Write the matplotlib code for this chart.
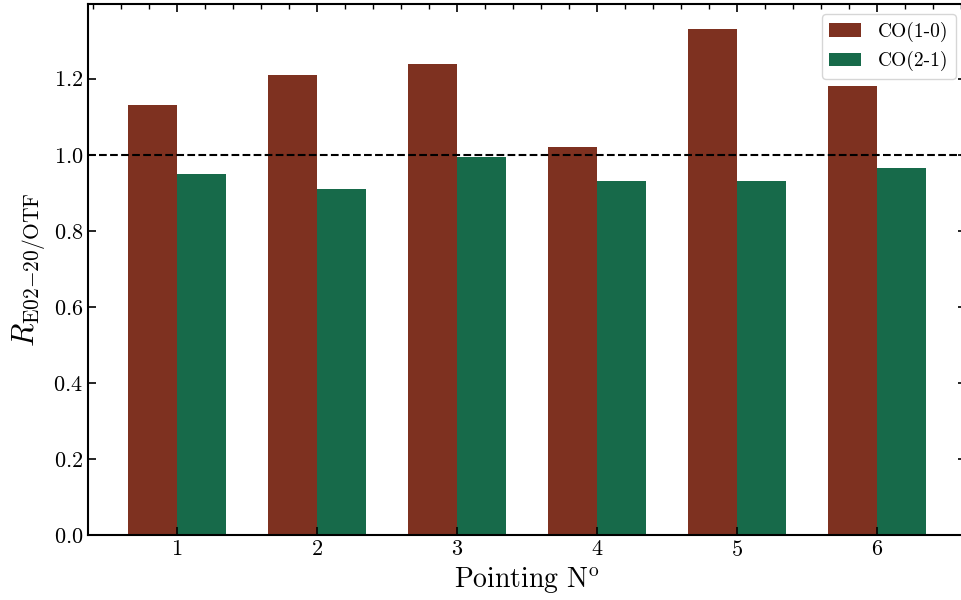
import matplotlib
matplotlib.use('Agg')
import matplotlib.pyplot as plt
import numpy as np
from matplotlib.ticker import MultipleLocator

# data
pointings = [1, 2, 3, 4, 5, 6]
co10 = [1.13, 1.21, 1.24, 1.02, 1.33, 1.18]
co21 = [0.95, 0.91, 0.995, 0.93, 0.93, 0.965]

plt.rcParams['font.family'] = 'serif'
plt.rcParams['font.serif'] = ['cmr10', 'DejaVu Serif']
plt.rcParams['mathtext.fontset'] = 'cm'
plt.rcParams['axes.formatter.use_mathtext'] = True

fig = plt.figure(figsize=(9.62, 6), dpi=100)
ax = fig.add_axes([88 / 962, 1 - 535 / 600, (966 - 88) / 962, (535 - 4) / 600])

x = np.array(pointings)
w = 0.35
ax.bar(x - w / 2, co10, w, color='#7e3120', label='CO(1-0)')
ax.bar(x + w / 2, co21, w, color='#176a4a', label='CO(2-1)')
ax.axhline(1.0, color='k', ls='--', lw=1.5)

ax.set_xticks(pointings)
ax.xaxis.set_minor_locator(MultipleLocator(0.2))
ax.yaxis.set_major_locator(MultipleLocator(0.2))
ax.tick_params(which='both', direction='in', top=True, right=True, labelsize=16)
ax.tick_params(which='major', length=6, width=1.2)
ax.tick_params(which='minor', length=3.5, width=1.0, bottom=False, top=True)
for s in ax.spines.values():
    s.set_linewidth(1.5)

ax.set_xlabel(r'Pointing N$^{\rm o}$', fontsize=20)
ax.set_ylabel(r'$R_{\rm E02{-}20/OTF}$', fontsize=22)
ax.legend(loc='upper right', fontsize=14, fancybox=True, framealpha=0.8,
          handlelength=1.6, handletextpad=0.9)

fig.savefig('out.png', dpi=100)
